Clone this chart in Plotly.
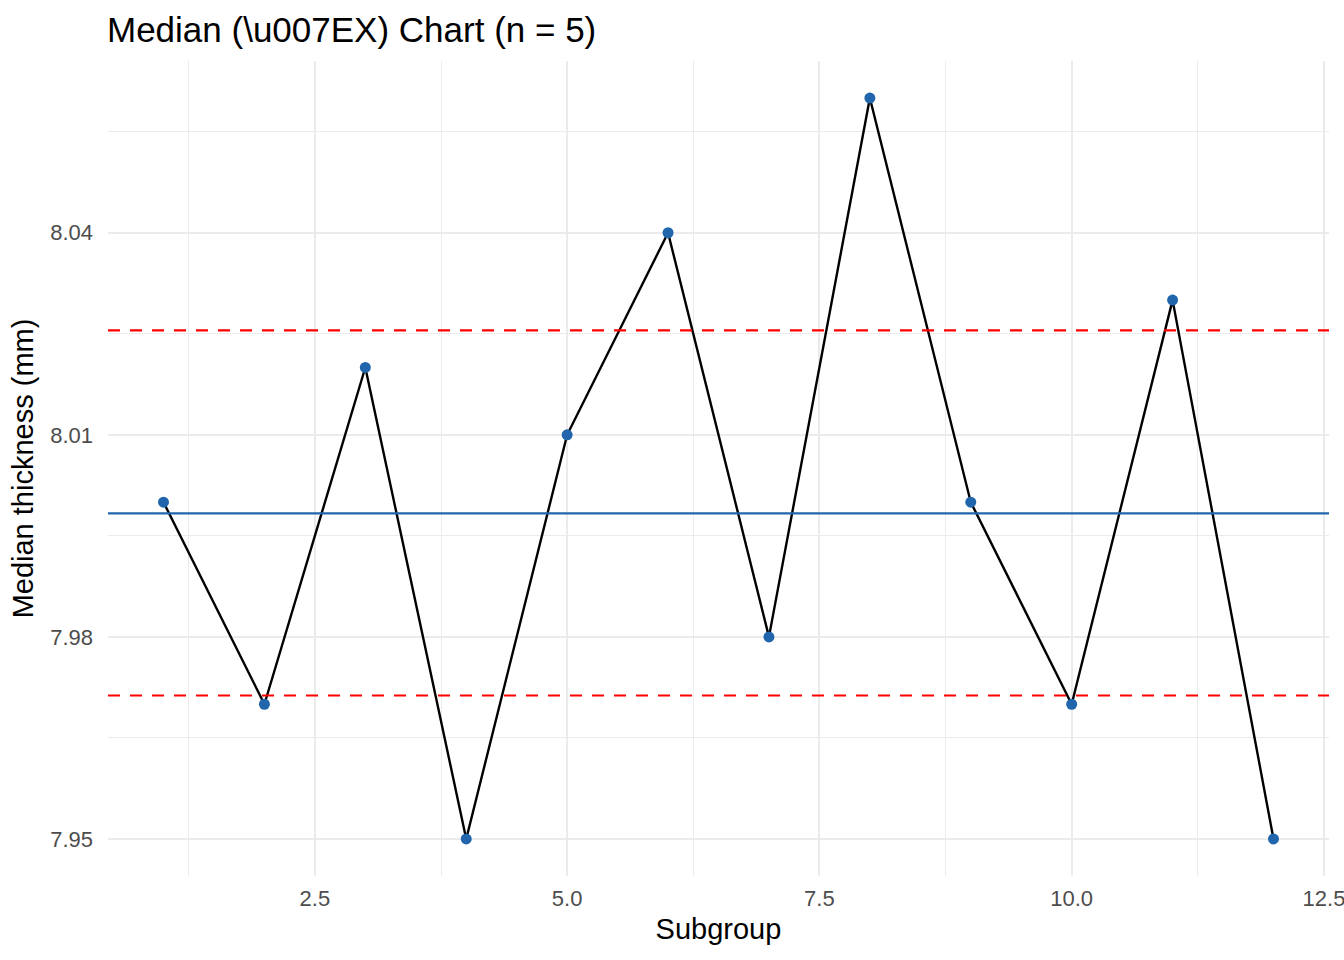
import plotly.graph_objects as go

# subgroup medians
subgroup = [1, 2, 3, 4, 5, 6, 7, 8, 9, 10, 11, 12]
median_mm = [8.00, 7.97, 8.02, 7.95, 8.01, 8.04, 7.98, 8.06, 8.00, 7.97, 8.03, 7.95]

center = sum(median_mm) / len(median_mm)
ucl = 8.0255
lcl = 7.9713

x_ticks = [2.5, 5.0, 7.5, 10.0, 12.5]
y_ticks = [7.95, 7.98, 8.01, 8.04]

fig = go.Figure()
fig.add_trace(go.Scatter(x=subgroup, y=median_mm, mode="lines",
                         line=dict(color="black", width=2.4), showlegend=False))
fig.add_trace(go.Scatter(x=subgroup, y=median_mm, mode="markers",
                         marker=dict(color="#2166AC", size=11), showlegend=False))

fig.add_hline(y=center, line=dict(color="#2166AC", width=2.2))
fig.add_hline(y=ucl, line=dict(color="red", width=2.2, dash="12px,10px"))
fig.add_hline(y=lcl, line=dict(color="red", width=2.2, dash="12px,10px"))

font = "Liberation Sans, Arial, sans-serif"
fig.update_layout(
    width=1344, height=960,
    margin=dict(l=108, r=15, t=61, b=84),
    plot_bgcolor="white", paper_bgcolor="white",
    font=dict(family=font, color="black"),
    title=dict(text="Median (\\u007EX) Chart (n = 5)", font=dict(size=35, color="black"),
               x=107 / 1344, xref="container", xanchor="left",
               y=1 - 30 / 960, yref="container", yanchor="middle"),
)
fig.update_xaxes(
    range=[0.45, 12.55], tickvals=x_ticks, ticktext=["2.5", "5.0", "7.5", "10.0", "12.5"],
    showgrid=True, gridcolor="#EBEBEB", gridwidth=2.4, zeroline=False, showline=False,
    tickfont=dict(size=22, color="#4D4D4D"), ticks="", ticklabelstandoff=7,
    ticklabeloverflow="allow", automargin=False,
    minor=dict(tickvals=[1.25, 3.75, 6.25, 8.75, 11.25], showgrid=True,
               gridcolor="#EBEBEB", gridwidth=1.2),
    title=dict(text="Subgroup", font=dict(size=29, color="black"), standoff=8),
)
fig.update_yaxes(
    range=[7.9445, 8.0655], tickvals=y_ticks, ticktext=["7.95", "7.98", "8.01", "8.04"],
    showgrid=True, gridcolor="#EBEBEB", gridwidth=2.4, zeroline=False, showline=False,
    tickfont=dict(size=22, color="#4D4D4D"), ticks="", ticklabelstandoff=14,
    minor=dict(tickvals=[7.965, 7.995, 8.025, 8.055], showgrid=True,
               gridcolor="#EBEBEB", gridwidth=1.2),
    title=dict(text="Median thickness (mm)", font=dict(size=29, color="black"), standoff=8),
)

fig.write_html("out.html", config={"displayModeBar": False},
               post_script="document.body.style.margin='0px';")
